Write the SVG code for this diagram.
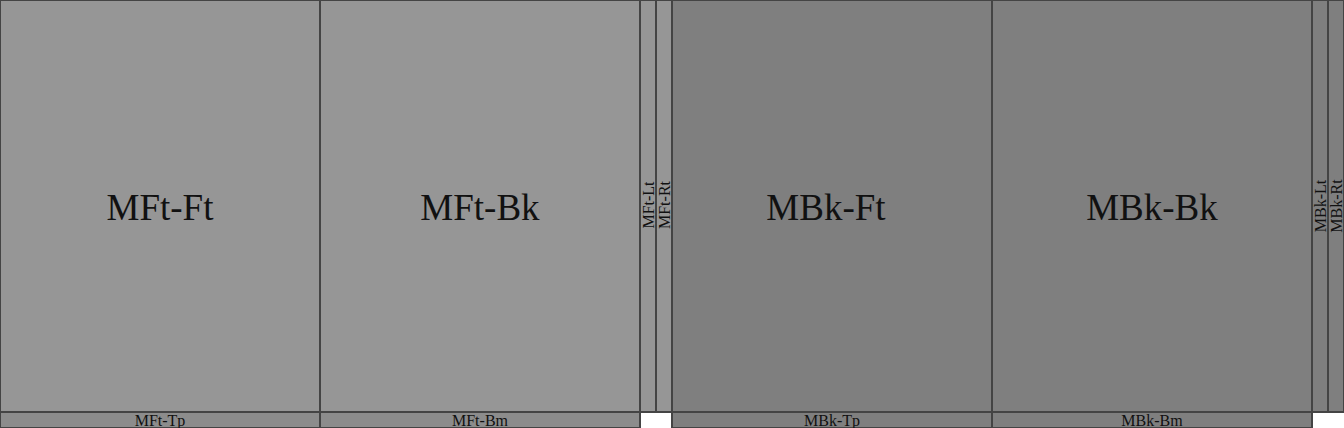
<svg xmlns="http://www.w3.org/2000/svg" width="1344" height="428" viewBox="0 0 1344 428">
<style>
rect{stroke:#444;stroke-width:2}
.a{fill:#969696}
.b{fill:#7f7f7f}
.c{fill:#8c8c8c}
text{font-family:"Liberation Serif","DejaVu Serif",serif;fill:#111;text-anchor:middle}
.L{font-size:37px}
.S{font-size:16px}
</style>
<rect x="0" y="0" width="1344" height="428" fill="#fff" style="stroke:none"/>
<g id="MFt-Ft"><rect class="a" x="0" y="0" width="320" height="412"/><text class="L" x="160" y="220">MFt-Ft</text></g>
<g id="MFt-Bk"><rect class="a" x="320" y="0" width="320" height="412"/><text class="L" x="480" y="220">MFt-Bk</text></g>
<g id="MFt-Lt"><rect class="a" x="640" y="0" width="16" height="412"/><text class="S" transform="translate(653.5,205) rotate(-90)">MFt-Lt</text></g>
<g id="MFt-Rt"><rect class="a" x="656" y="0" width="16" height="412"/><text class="S" transform="translate(669.5,205) rotate(-90)">MFt-Rt</text></g>
<g id="MFt-Tp"><rect class="c" x="0" y="412" width="320" height="16"/><text class="S" x="160" y="426">MFt-Tp</text></g>
<g id="MFt-Bm"><rect class="c" x="320" y="412" width="320" height="16"/><text class="S" x="480" y="426">MFt-Bm</text></g>
<g id="MBk-Ft"><rect class="b" x="672" y="0" width="320" height="412"/><text class="L" x="826" y="220">MBk-Ft</text></g>
<g id="MBk-Bk"><rect class="b" x="992" y="0" width="320" height="412"/><text class="L" x="1152" y="220">MBk-Bk</text></g>
<g id="MBk-Lt"><rect class="b" x="1312" y="0" width="16" height="412"/><text class="S" transform="translate(1325.5,206) rotate(-90)">MBk-Lt</text></g>
<g id="MBk-Rt"><rect class="b" x="1328" y="0" width="16" height="412"/><text class="S" transform="translate(1341.5,206) rotate(-90)">MBk-Rt</text></g>
<g id="MBk-Tp"><rect class="b" x="672" y="412" width="320" height="16"/><text class="S" x="832" y="426">MBk-Tp</text></g>
<g id="MBk-Bm"><rect class="b" x="992" y="412" width="320" height="16"/><text class="S" x="1152" y="426">MBk-Bm</text></g>
<g id="connectors"></g>
</svg>
